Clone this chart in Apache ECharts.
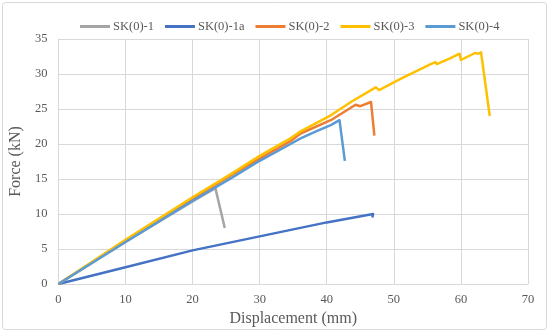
<!DOCTYPE html>
<html>
<head>
<meta charset="utf-8">
<script src="https://cdn.jsdelivr.net/npm/echarts@6/dist/echarts.min.js"></script>
<style>
html,body{margin:0;padding:0;background:#fff;}
#c{width:550px;height:333px;}
</style>
</head>
<body>
<div id="c"></div>
<script>
var seriesNames = ['SK(0)-1', 'SK(0)-1a', 'SK(0)-2', 'SK(0)-3', 'SK(0)-4'];
var seriesColors = ['#A5A5A5', '#4472C4', '#ED7D31', '#FFC000', '#5B9BD5'];
var xTicks = [0, 10, 20, 30, 40, 50, 60, 70];
var yTicks = [0, 5, 10, 15, 20, 25, 30, 35];

var sk1 = [[0,0],[10,6.0],[20,11.8],[23.4,13.7],[24.8,8.0]];
var sk1a = [[0,0],[10,2.4],[20,4.8],[30,6.8],[40,8.8],[46.9,10.0],[46.8,9.5]];
var sk2 = [[0,0],[10,6.2],[20,12.2],[25.7,15.5],[30,17.9],[34.6,20.4],[36.1,21.5],[40.6,23.4],[44.3,25.6],[45.0,25.4],[46.6,26.0],[47.1,21.2]];
var sk3 = [[0,0],[10,6.3],[20,12.4],[25.7,15.7],[30,18.3],[34.6,20.8],[36.1,21.8],[40.6,24.1],[43.6,26.0],[47.3,28.1],[47.8,27.7],[51,29.3],[55.5,31.4],[56.2,31.7],[56.4,31.4],[58.3,32.2],[59.8,32.9],[60.0,32.0],[62.1,33.0],[62.6,32.9],[63.0,33.1],[64.3,24.0]];
var sk4 = [[0,0],[10,6.0],[20,11.9],[25.7,15.1],[30,17.6],[34.6,20.0],[36.1,20.8],[38.4,21.8],[40.6,22.7],[41.9,23.4],[42.7,17.6]];
var allData = [sk1, sk1a, sk2, sk3, sk4];

var font = '"Liberation Serif", "DejaVu Serif", serif';
var chart = echarts.init(document.getElementById('c'), null, {renderer: 'canvas'});
chart.setOption({
  animation: false,
  backgroundColor: '#fff',
  graphic: [{
    type: 'rect', silent: true, z: -10,
    shape: {x: 2.5, y: 2.5, width: 544, height: 327, r: 3},
    style: {fill: 'none', stroke: '#d9d9d9', lineWidth: 1}
  }],
  legend: {
    data: seriesNames,
    left: 80, top: 20, padding: 0,
    icon: 'rect', itemWidth: 30, itemHeight: 3, itemGap: 11,
    textStyle: {fontFamily: font, fontSize: 12.5, color: '#595959', padding: [0,0,0,-2]}
  },
  grid: {left: 58, right: 22, top: 39, bottom: 49},
  xAxis: {
    type: 'value', min: xTicks[0], max: xTicks[xTicks.length-1], interval: 10,
    name: 'Displacement (mm)', nameLocation: 'middle', nameGap: 24,
    nameTextStyle: {fontFamily: font, fontSize: 16, color: '#595959'},
    axisLine: {show: true, lineStyle: {color: '#d9d9d9'}},
    axisTick: {show: false},
    axisLabel: {fontFamily: font, fontSize: 12.5, color: '#595959', margin: 9},
    splitLine: {show: true, lineStyle: {color: '#d9d9d9', width: 1}}
  },
  yAxis: {
    type: 'value', min: yTicks[0], max: yTicks[yTicks.length-1], interval: 5,
    name: 'Force (kN)', nameLocation: 'middle', nameGap: 31,
    nameTextStyle: {fontFamily: font, fontSize: 16, color: '#595959'},
    axisLine: {show: true, lineStyle: {color: '#d9d9d9'}},
    axisTick: {show: false},
    axisLabel: {fontFamily: font, fontSize: 12.5, color: '#595959', margin: 11},
    splitLine: {show: true, lineStyle: {color: '#d9d9d9', width: 1}}
  },
  series: seriesNames.map(function(n, i){
    return {
      name: n, type: 'line', data: allData[i],
      symbol: 'none', showSymbol: false,
      color: seriesColors[i],
      lineStyle: {width: 2.5, color: seriesColors[i], join: 'round'}
    };
  })
});
</script>
</body>
</html>
